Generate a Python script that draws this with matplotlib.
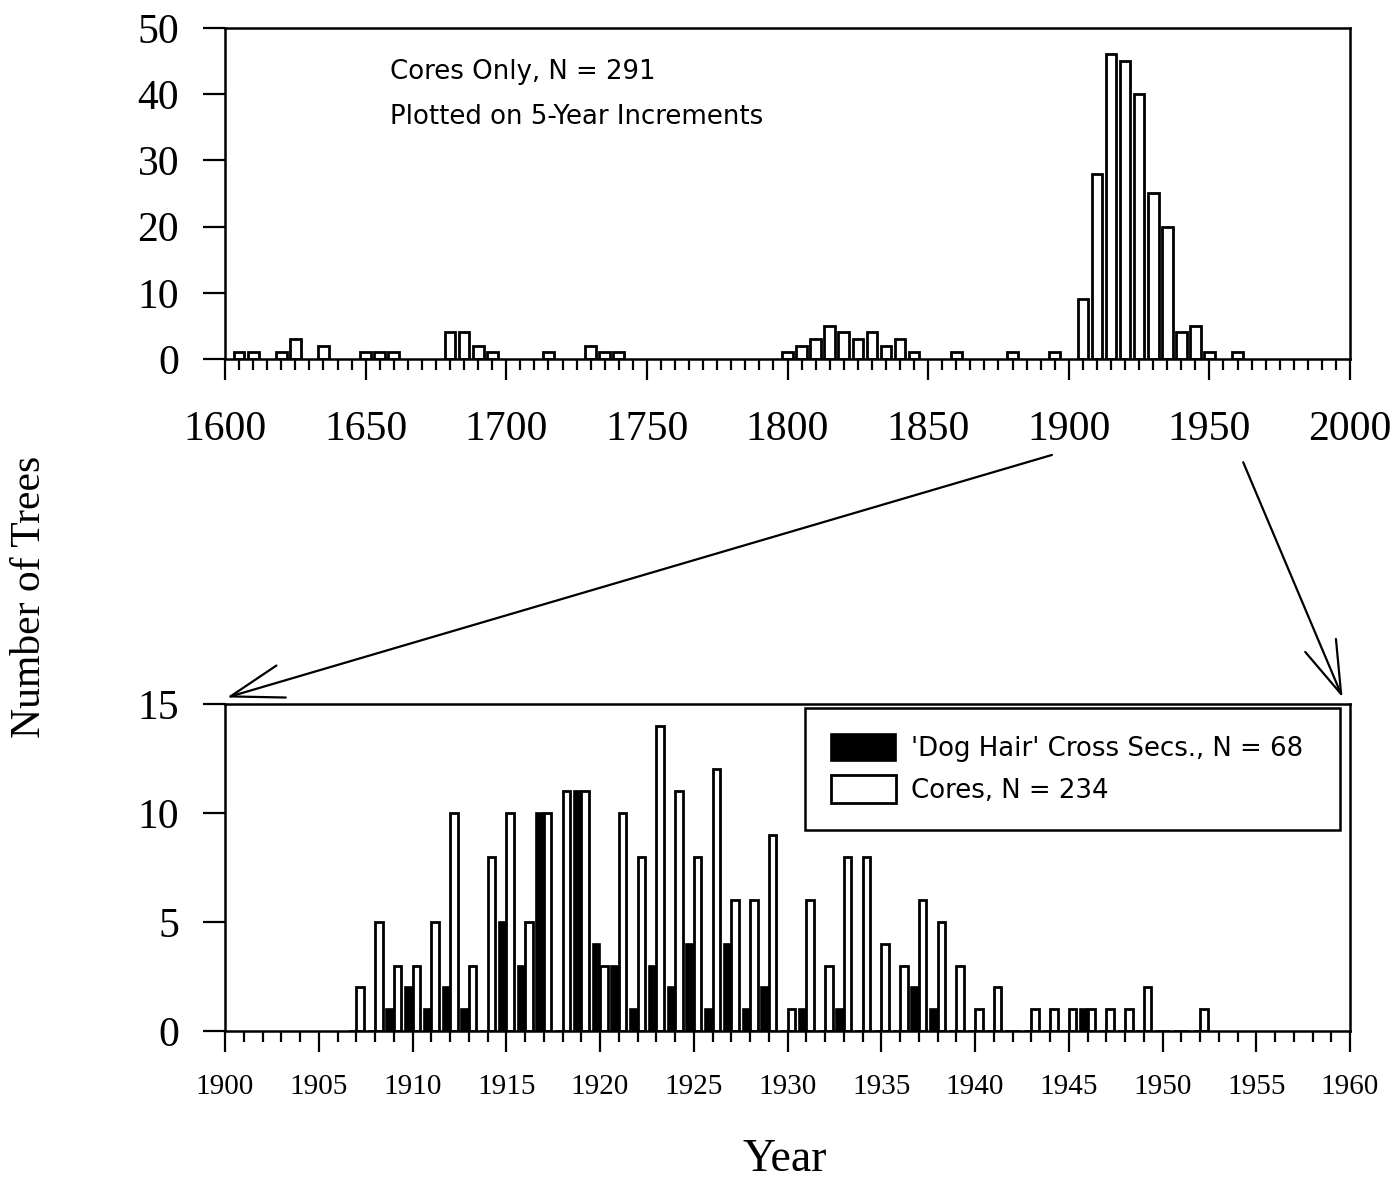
import matplotlib.pyplot as plt
from matplotlib.patches import ConnectionPatch

plt.rcParams['font.family'] = ['Liberation Serif', 'DejaVu Serif']

# top panel: cores only, 5-year bins
top_years = [1605, 1610, 1620, 1625, 1635, 1650, 1655, 1660, 1680, 1685,
             1690, 1695, 1715, 1730, 1735, 1740, 1800, 1805, 1810, 1815,
             1820, 1825, 1830, 1835, 1840, 1845, 1860, 1880, 1895, 1905,
             1910, 1915, 1920, 1925, 1930, 1935, 1940, 1945, 1950, 1960]
top_counts = [1, 1, 1, 3, 2, 1, 1, 1, 4, 4,
              2, 1, 1, 2, 1, 1, 1, 2, 3, 5,
              4, 3, 4, 2, 3, 1, 1, 1, 1, 9,
              28, 46, 45, 40, 25, 20, 4, 5, 1, 1]

# bottom panel: yearly counts 1907-1952
years = list(range(1907, 1953))
cores = [2, 5, 3, 3, 5, 10, 3, 8, 10, 5,
         10, 11, 11, 3, 10, 8, 14, 11, 8, 12,
         6, 6, 9, 1, 6, 3, 8, 8, 4, 3,
         6, 5, 3, 1, 2, 0, 1, 1, 1, 1,
         1, 1, 2, 0, 0, 1]
dog_hair = [0, 0, 1, 2, 1, 2, 1, 0, 5, 3,
            10, 0, 11, 4, 3, 1, 3, 2, 4, 1,
            4, 1, 2, 0, 1, 0, 1, 0, 0, 0,
            2, 1, 0, 0, 0, 0, 0, 0, 0, 1,
            0, 0, 0, 0, 0, 0]

fig = plt.figure(figsize=(13.97, 11.82), dpi=100)

# ---- top panel
ax1 = fig.add_axes([0.1611, 0.6963, 0.8053, 0.2800])
ax1.bar(top_years, top_counts, width=3.8, color='white', edgecolor='black', linewidth=2.0)
ax1.set_xlim(1600, 2000)
ax1.set_ylim(0, 50)
ax1.set_xticks(range(1600, 2001, 50))
ax1.set_xticks(range(1600, 2001, 5), minor=True)
ax1.set_yticks(range(0, 51, 10))
ax1.tick_params(axis='x', which='major', length=15, width=1.6, pad=22, labelsize=30)
ax1.tick_params(axis='x', which='minor', length=8, width=1.6)
ax1.tick_params(axis='y', length=16, width=1.6, pad=17, labelsize=30)
for s in ax1.spines.values():
    s.set_linewidth(1.8)
ax1.text(0.1467, 0.867, 'Cores Only, N = 291', transform=ax1.transAxes,
         family='DejaVu Sans', fontsize=18.7, va='center')
ax1.text(0.1467, 0.731, 'Plotted on 5-Year Increments', transform=ax1.transAxes,
         family='DejaVu Sans', fontsize=18.7, va='center')

# ---- bottom panel
ax2 = fig.add_axes([0.1611, 0.1277, 0.8053, 0.2767])
w = 0.4
ax2.bar([y - w / 2 for y in years], dog_hair, width=w, color='black', edgecolor='black',
        linewidth=1.2, label='\'Dog Hair\' Cross Secs., N = 68')
ax2.bar([y + w / 2 for y in years], cores, width=w, color='white', edgecolor='black',
        linewidth=2.0, label='Cores, N = 234')
ax2.set_xlim(1900, 1960)
ax2.set_ylim(0, 15)
ax2.set_xticks(range(1900, 1961, 5))
ax2.set_xticks(range(1900, 1961, 1), minor=True)
ax2.set_yticks([0, 5, 10, 15])
ax2.tick_params(axis='x', which='major', length=15, width=1.6, pad=16, labelsize=21)
ax2.tick_params(axis='x', which='minor', length=8, width=1.6)
ax2.tick_params(axis='y', length=16, width=1.6, pad=17, labelsize=30)
for s in ax2.spines.values():
    s.set_linewidth(1.8)

leg = ax2.legend(loc='upper left', bbox_to_anchor=(0.5156, 0.615, 0.4755, 0.373),
                 mode='expand', borderaxespad=0, fancybox=False, frameon=True,
                 prop={'family': 'DejaVu Sans', 'size': 18.7},
                 handlelength=2.5, handleheight=1.25, handletextpad=0.58,
                 labelspacing=0.5, borderpad=1.0)
leg.get_frame().set_edgecolor('black')
leg.get_frame().set_linewidth(1.8)
leg.get_frame().set_alpha(1)

# zoom arrows from the top axis to the bottom panel
for start, end in [((1894, -14.5), (1900.1, 15.3)), ((1962, -15.6), (1959.6, 15.3))]:
    con = ConnectionPatch(xyA=start, coordsA=ax1.transData, xyB=end, coordsB=ax2.transData,
                          arrowstyle='->,head_length=1.9,head_width=0.6', mutation_scale=20,
                          linewidth=1.6, color='black', clip_on=False)
    fig.add_artist(con)

fig.text(30 / 1397, 1 - 597 / 1182, 'Number of Trees', rotation=90, ha='center',
         va='center', fontsize=30)
fig.text(785 / 1397, 1 - 1160 / 1182, 'Year', ha='center', va='center', fontsize=33)

fig.savefig('out.png', dpi=100)
